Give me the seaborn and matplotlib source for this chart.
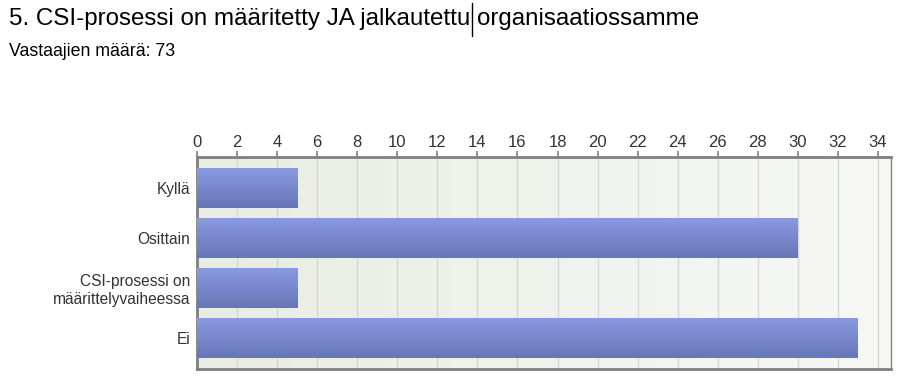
import numpy as np
import pandas as pd
import seaborn as sns
import matplotlib.pyplot as plt
from matplotlib.colors import LinearSegmentedColormap
from matplotlib.lines import Line2D

categories = ['Kyllä', 'Osittain', 'CSI-prosessi on\nmäärittelyvaiheessa', 'Ei']
counts = [5, 30, 5, 33]
xticks = list(range(0, 35, 2))

df = pd.DataFrame({'vastaus': categories, 'maara': counts})

sns.set_style('white')
plt.rcParams['font.family'] = ['Liberation Sans', 'DejaVu Sans']

fig = plt.figure(figsize=(9.07, 3.79), dpi=100)
ax = fig.add_axes([197 / 907, 10 / 379, 694 / 907, 212 / 379])

sns.barplot(data=df, x='maara', y='vastaus', ax=ax, width=0.8, color='#7b88d0',
            orient='h', zorder=3)

# background gradient (greenish on left, lighter on right)
bg = LinearSegmentedColormap.from_list('bg', ['#e8ede3', '#f7f8f5'])
ax.imshow(np.linspace(0, 1, 256).reshape(1, -1), cmap=bg, aspect='auto',
          extent=[0, 34.65, 3.63, -0.63], zorder=0)

# vertical gradient on bars
barmap = LinearSegmentedColormap.from_list('bar', ['#8a9ae2', '#6876b6'])
for p in ax.patches:
    x0, y0 = p.get_x(), p.get_y()
    w, h = p.get_width(), p.get_height()
    ax.imshow(np.linspace(0, 1, 64).reshape(-1, 1), cmap=barmap, aspect='auto',
              extent=[x0, x0 + w, y0 + h, y0], zorder=3)
    p.set_visible(False)
ax.set_xlim(0, 34.65)
ax.set_ylim(3.63, -0.63)

ax.set_xticks(xticks)
ax.xaxis.tick_top()
ax.grid(axis='x', color='#d6d6d6', linewidth=1, zorder=1)
ax.set_axisbelow(True)
ax.tick_params(axis='x', top=True, length=4, width=1.2, color='#808080',
               labelsize=12, labelcolor='#333333', pad=1)
ax.tick_params(axis='y', left=False, labelsize=11.2, labelcolor='#333333', pad=1.5)
ax.set_xlabel('')
ax.set_ylabel('')
for s in ['top', 'left', 'bottom']:
    ax.spines[s].set_color('#808080')
    ax.spines[s].set_linewidth(2)
ax.spines['right'].set_color('#808080')
ax.spines['right'].set_linewidth(1)
for lbl in ax.get_yticklabels():
    lbl.set_horizontalalignment('right')
    lbl.set_multialignment('right')

fig.text(9 / 907, 1 - 19 / 379, '5. CSI-prosessi on määritetty JA jalkautettu organisaatiossamme',
         fontsize=17.4, va='center', ha='left', color='black')
fig.text(9 / 907, 1 - 51 / 379, 'Vastaajien määrä: 73', fontsize=12.8, va='center',
         ha='left', color='black')
fig.add_artist(Line2D([472 / 907, 472 / 907], [1 - 3 / 379, 1 - 36 / 379],
                      transform=fig.transFigure, color='black', linewidth=1))

fig.savefig('out.png', dpi=100)
